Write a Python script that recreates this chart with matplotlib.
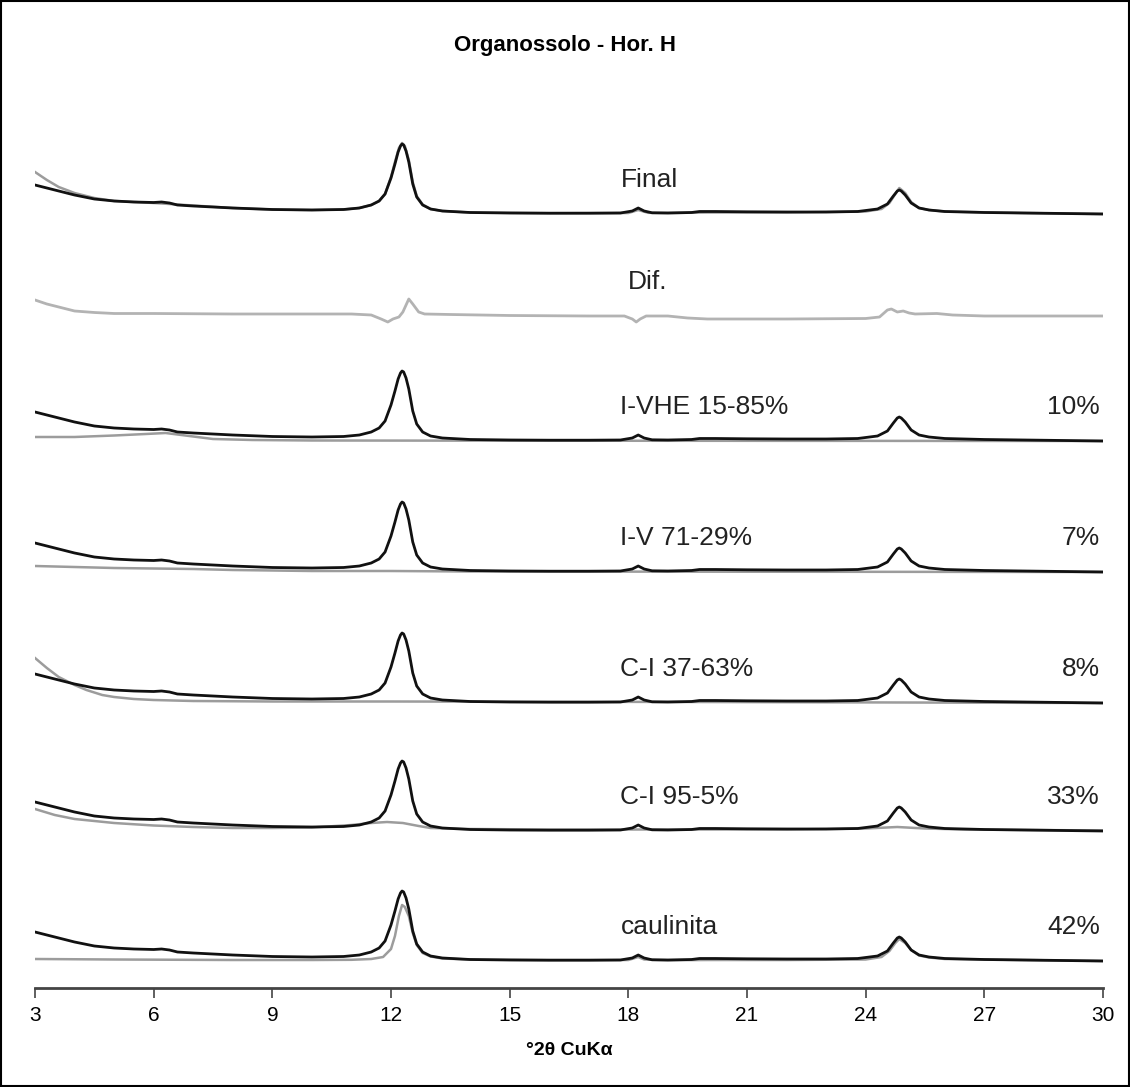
import matplotlib.pyplot as plt
from matplotlib.patches import Rectangle

plt.rcParams['font.family'] = ['Liberation Sans', 'DejaVu Sans']

# medido (intensidade acima da linha de base, u.a.)
meas_2t = [3.0, 3.3, 3.6, 4.0, 4.5, 5.0, 5.5, 6.0, 6.2, 6.4, 6.6, 7.0, 7.5, 8.0,
           9.0, 10.0, 10.8, 11.2, 11.5, 11.7, 11.85, 12.0, 12.1, 12.18, 12.24,
           12.28, 12.32, 12.38, 12.45, 12.55, 12.65, 12.8, 13.0, 13.3, 14.0, 15.0,
           16.0, 17.0, 17.8, 18.1, 18.25, 18.4, 18.6, 19.0, 19.6, 19.8, 20.2,
           21.0, 22.0, 23.0, 23.8, 24.3, 24.55, 24.7, 24.8, 24.85, 24.9, 25.0,
           25.15, 25.35, 25.6, 26.0, 27.0, 28.0, 29.0, 30.0]
meas_int = [29, 26, 23, 19, 15, 13, 12, 11.5, 12, 11, 9, 8, 7, 6,
            4.5, 4, 4.5, 6, 9, 13, 20, 36, 50, 62, 68,
            70, 69, 63, 52, 30, 17, 9, 5, 3, 1.5, 1,
            0.8, 0.8, 1, 3, 6, 3, 1.2, 1, 1.5, 2.5, 2.5,
            2.2, 2, 2, 2.5, 5, 10, 18, 23, 24, 23, 19,
            11, 6, 4, 2.5, 1.5, 1, 0.5, 0]

# calculados
final_2t = [3.0, 3.3, 3.6, 4.0, 4.5, 5.0, 6.0, 7.0, 8.0, 9.0, 10.0, 10.8, 11.2,
            11.5, 11.7, 11.85, 12.0, 12.1, 12.2, 12.28, 12.35, 12.45, 12.55,
            12.65, 12.8, 13.0, 13.3, 14.0, 16.0, 18.0, 18.25, 18.5, 19.0, 20.0,
            22.0, 24.0, 24.4, 24.6, 24.75, 24.85, 25.0, 25.15, 25.35, 25.6, 26.0,
            28.0, 30.0]
final_int = [42, 34, 27, 21, 16, 13, 11, 8.5, 6, 4.5, 4, 4.5, 6,
             9, 13, 20, 37, 52, 66, 71, 68, 54, 32,
             18, 9.5, 5, 3, 1.5, 0.8, 1, 4, 1.2, 1, 1.5,
             1.5, 2.5, 5, 11, 20, 26, 21, 12, 6, 4, 2.5,
             1, 0]

dif_2t = [3.0, 3.3, 3.7, 4.0, 4.5, 5.0, 6.0, 8.0, 10.0, 11.0, 11.5, 11.75, 11.92,
          12.05, 12.2, 12.3, 12.45, 12.55, 12.7, 12.85, 13.5, 15.0, 17.0, 17.9,
          18.1, 18.2, 18.3, 18.45, 19.0, 19.5, 20.0, 22.0, 24.0, 24.35, 24.55,
          24.65, 24.8, 24.95, 25.1, 25.25, 25.8, 26.2, 27.0, 30.0]
dif_int = [16, 12, 8, 5, 3.5, 2.5, 2.5, 2, 2, 2, 1, -3, -6,
           -3, -1, 4, 17, 12, 4, 2, 1.5, 0.5, 0, 0,
           -3, -6, -3, 0, 0, -2, -3, -3, -2.5, -1, 6,
           7, 4, 5, 3, 2, 2.5, 1, 0, 0]

ivhe_2t = [3.0, 4.0, 5.0, 5.8, 6.3, 6.8, 7.5, 8.5, 10.0, 15.0, 30.0]
ivhe_int = [4, 4, 5.5, 7, 8, 5.5, 2, 1, 0.5, 0.3, 0]

iv_2t = [3.0, 4.0, 5.0, 6.0, 7.0, 8.0, 10.0, 12.0, 14.0, 30.0]
iv_int = [6, 5, 4, 3.5, 3, 2, 1, 1, 0.5, 0]

ci37_2t = [3.0, 3.3, 3.6, 4.0, 4.3, 4.7, 5.0, 5.5, 6.0, 7.0, 9.0, 12.0, 20.0, 30.0]
ci37_int = [45, 35, 26, 18, 13, 8, 6, 4, 3, 2, 1.5, 1.5, 1, 0]

ci95_2t = [3.0, 3.5, 4.0, 5.0, 6.0, 7.0, 8.0, 9.0, 10.0, 11.0, 11.5, 11.9, 12.3,
           12.7, 13.0, 14.0, 16.0, 19.0, 22.0, 24.0, 24.8, 25.5, 26.5, 30.0]
ci95_int = [22, 16, 12, 8, 5.5, 4, 3, 3, 3.5, 6, 8, 9, 8,
            5, 3, 2, 1.5, 1.5, 1.5, 2.5, 4, 2.5, 1.5, 0.5]

caul_2t = [3.0, 5.0, 8.0, 10.0, 11.0, 11.5, 11.8, 12.0, 12.1, 12.2, 12.28, 12.35,
           12.45, 12.55, 12.65, 12.8, 13.0, 13.3, 14.0, 16.0, 18.0, 18.25, 18.4,
           19.0, 20.0, 22.0, 24.0, 24.4, 24.6, 24.75, 24.85, 25.0, 25.15, 25.35,
           25.6, 26.0, 28.0, 30.0]
caul_int = [2, 1.5, 1, 1, 1.2, 2, 4, 12, 25, 45, 56, 54,
            45, 28, 16, 8, 4.5, 2.5, 1.5, 1, 1, 4, 1.5,
            0.8, 1, 1, 1.5, 4, 10, 18, 22, 18, 11, 5.5,
            3.5, 2, 1, 0]

labels = ['Final', 'Dif.', 'I-VHE 15-85%', 'I-V 71-29%', 'C-I 37-63%',
          'C-I 95-5%', 'caulinita']
percents = ['', '', '10%', '7%', '8%', '33%', '42%']
offsets = [774, 672, 547, 416, 285, 157, 27]
calc = [(final_2t, final_int), (dif_2t, dif_int), (ivhe_2t, ivhe_int),
        (iv_2t, iv_int), (ci37_2t, ci37_int), (ci95_2t, ci95_int),
        (caul_2t, caul_int)]

fig = plt.figure(figsize=(11.3, 10.87), dpi=100)
ax = fig.add_axes([35 / 1130, 1 - 988 / 1087, 1068 / 1130, 888 / 1087])

for lab, pct, off, (cx, cy) in zip(labels, percents, offsets, calc):
    if lab == 'Dif.':
        ax.plot(cx, [v + off for v in cy], color='#b3b3b3', lw=2.0)
    else:
        ax.plot(cx, [v + off for v in cy], color='#9c9c9c', lw=1.8, zorder=2)
        ax.plot(meas_2t, [v + off for v in meas_int], color='#111111', lw=2.0,
                zorder=3)
    ax.text(17.8 if lab != 'Dif.' else 18.0, off + 34, lab, fontsize=19,
            color='#222222', va='center', ha='left')
    if pct:
        ax.text(29.92, off + 34, pct, fontsize=19, color='#222222',
                va='center', ha='right')

ax.set_xlim(3, 30)
ax.set_ylim(0, 888)
ax.set_xticks(range(3, 31, 3))
ax.set_yticks([])
for s in ['top', 'left', 'right']:
    ax.spines[s].set_visible(False)
ax.spines['bottom'].set_linewidth(2)
ax.spines['bottom'].set_color('#444444')
ax.tick_params(axis='x', direction='out', length=7, width=1.2, color='#444444',
               labelsize=15, pad=6)
ax.set_xlabel('°2θ CuKα', fontsize=14, fontweight='bold', labelpad=12)

fig.text(0.5, 1 - 45 / 1087, 'Organossolo - Hor. H', fontsize=16,
         fontweight='bold', ha='center', va='center')

# moldura externa
fig.patches.append(Rectangle((0.001, 0.001), 0.998, 0.998, transform=fig.transFigure,
                             fill=False, edgecolor='black', lw=1.5))

fig.savefig('out.png', dpi=100)
